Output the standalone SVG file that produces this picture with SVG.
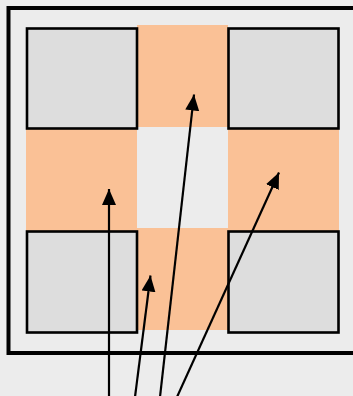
<svg xmlns="http://www.w3.org/2000/svg" width="353" height="396" viewBox="0 0 353 396">
<defs>
<style>
.sq{fill:#dddddd;stroke:#000;stroke-width:2.6}
.or{fill:#fac196}
.cn{stroke:#000;stroke-width:2.2;fill:none}
</style>
<marker id="ah" markerUnits="userSpaceOnUse" markerWidth="17" markerHeight="15" refX="16" refY="7" orient="auto">
<path d="M0,0 L16,7 L0,14 z" fill="#000"/>
</marker>
</defs>
<rect x="0" y="0" width="353" height="396" fill="#ececec"/>
<g id="frame">
<rect x="8.5" y="8" width="352" height="345" fill="#ececec" stroke="#000" stroke-width="4"/>
</g>
<g id="cross">
<rect class="or" x="137" y="25" width="91" height="305"/>
<rect class="or" x="26" y="128" width="313" height="103"/>
<rect x="137" y="127" width="91" height="101" fill="#ececec"/>
</g>
<g id="sq-tl"><rect class="sq" x="27" y="28.5" width="110" height="100"/></g>
<g id="sq-tr"><rect class="sq" x="228.5" y="28.5" width="110" height="100"/></g>
<g id="sq-bl"><rect class="sq" x="27" y="231.5" width="110" height="101"/></g>
<g id="sq-br"><rect class="sq" x="228.5" y="231.5" width="110" height="101"/></g>
<g id="connectors">
<line class="cn" x1="109" y1="397" x2="109" y2="189" marker-end="url(#ah)"/>
<line class="cn" x1="135" y1="397" x2="150.5" y2="275.5" marker-end="url(#ah)"/>
<line class="cn" x1="160" y1="397" x2="194" y2="94.5" marker-end="url(#ah)"/>
<line class="cn" x1="177" y1="397" x2="279" y2="172.5" marker-end="url(#ah)"/>
</g>
</svg>
